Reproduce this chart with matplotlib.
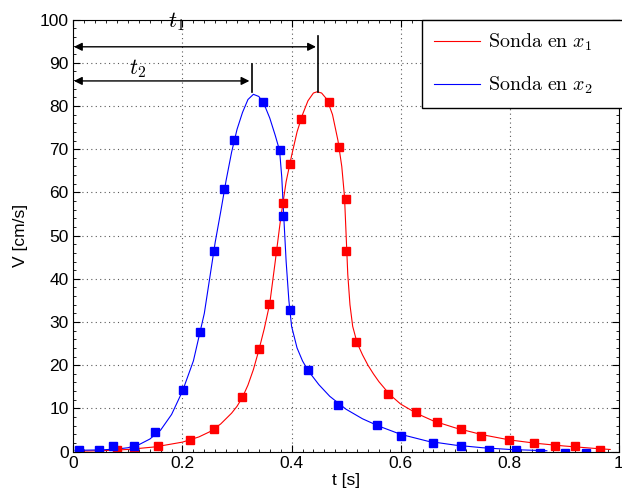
import matplotlib
matplotlib.use('Agg')
import matplotlib.pyplot as plt
from matplotlib.ticker import MultipleLocator, FuncFormatter

# Puntos medidos (marcadores)
t_meas_1 = [0.080, 0.111, 0.156, 0.213, 0.257, 0.309, 0.341, 0.359, 0.372, 0.385, 0.397,
            0.417, 0.468, 0.487, 0.500, 0.500, 0.518, 0.577, 0.628, 0.666, 0.710, 0.748,
            0.799, 0.844, 0.882, 0.920, 0.965]
v_meas_1 = [0.4, 0.4, 1.4, 2.8, 5.3, 12.6, 23.8, 34.2, 46.4, 57.6, 66.5,
            76.9, 81.0, 70.5, 58.5, 46.4, 25.4, 13.4, 9.2, 6.9, 5.2, 3.7,
            2.8, 2.1, 1.4, 1.4, 0.4]
t_meas_2 = [0.011, 0.047, 0.072, 0.111, 0.150, 0.201, 0.233, 0.257, 0.276, 0.295, 0.347,
            0.378, 0.385, 0.397, 0.430, 0.485, 0.557, 0.601, 0.659, 0.710, 0.762,
            0.812, 0.856, 0.902, 0.940]
v_meas_2 = [0.4, 0.4, 1.3, 1.3, 4.5, 14.2, 27.8, 46.4, 60.9, 72.1, 81.0,
            69.7, 54.5, 32.7, 19.0, 10.9, 6.2, 3.7, 2.1, 1.3, 0.4,
            0.4, -0.3, -0.3, -0.3]

# Curvas ajustadas
t_fit_1 = [0.005, 0.05, 0.10, 0.15, 0.20, 0.23, 0.25, 0.27, 0.29, 0.30, 0.31, 0.32, 0.33,
           0.34, 0.35, 0.36, 0.37, 0.38, 0.39, 0.40, 0.41, 0.42, 0.43, 0.44, 0.447,
           0.455, 0.465, 0.475, 0.485, 0.492, 0.497, 0.500, 0.503, 0.507, 0.512, 0.52,
           0.53, 0.54, 0.55, 0.56, 0.58, 0.60, 0.63, 0.66, 0.70, 0.75, 0.80, 0.85,
           0.90, 0.95, 0.984]
v_fit_1 = [0.1, 0.2, 0.5, 1.1, 2.2, 3.4, 4.6, 6.4, 8.9, 10.5, 12.6, 15.4, 19.0,
           23.5, 28.5, 34.3, 44.0, 54.0, 62.5, 68.5, 74.0, 78.0, 81.2, 83.0, 83.3,
           83.0, 81.5, 78.0, 72.0, 66.0, 59.0, 50.0, 41.0, 34.0, 29.0, 25.2,
           22.4, 20.0, 18.0, 16.2, 13.2, 11.0, 8.8, 7.1, 5.5, 3.9, 2.7, 1.9,
           1.3, 0.8, 0.5]
t_fit_2 = [0.003, 0.05, 0.08, 0.10, 0.12, 0.14, 0.16, 0.18, 0.20, 0.22, 0.24, 0.26, 0.27,
           0.28, 0.29, 0.30, 0.31, 0.32, 0.33, 0.34, 0.35, 0.36, 0.37, 0.378, 0.382,
           0.385, 0.39, 0.395, 0.40, 0.41, 0.42, 0.43, 0.45, 0.47, 0.50, 0.53, 0.56,
           0.60, 0.65, 0.70, 0.75, 0.80, 0.868]
v_fit_2 = [0.3, 0.4, 0.6, 0.9, 1.6, 2.9, 5.0, 8.6, 14.0, 21.0, 32.0, 48.5, 55.5,
           62.8, 69.3, 74.6, 78.5, 81.5, 82.7, 82.2, 80.3, 77.2, 73.2, 69.7, 63.5,
           56.0, 44.0, 35.0, 29.0, 24.0, 21.0, 18.8, 15.5, 12.8, 9.8, 7.6, 5.9,
           4.0, 2.4, 1.5, 0.9, 0.5, 0.2]

t_peak_1, v_peak_1 = 0.4487, 83.3
t_peak_2, v_peak_2 = 0.3277, 82.7

plt.rcParams['mathtext.fontset'] = 'cm'
plt.rcParams['font.family'] = 'Liberation Sans'

fig = plt.figure(figsize=(6.22, 4.97), dpi=100)
ax = fig.add_axes([0.118, 0.0913, 0.877, 0.8693])

l1, = ax.plot(t_fit_1, v_fit_1, color='red', lw=0.8)
l2, = ax.plot(t_fit_2, v_fit_2, color='blue', lw=0.8)
ax.plot(t_meas_1, v_meas_1, 's', color='red', ms=5.5, mec='red')
ax.plot(t_meas_2, v_meas_2, 's', color='blue', ms=5.5, mec='blue')

# Flechas t1 y t2
arrow = dict(arrowstyle='<|-|>', color='black', lw=1, mutation_scale=12, shrinkA=0, shrinkB=0)
ax.annotate('', xy=(0.001, 93.7), xytext=(t_peak_1 - 0.004, 93.7), arrowprops=arrow)
ax.annotate('', xy=(0.001, 85.8), xytext=(t_peak_2 - 0.005, 85.8), arrowprops=arrow)
ax.plot([t_peak_1, t_peak_1], [v_peak_1, 96.2], color='black', lw=1.2)
ax.plot([t_peak_2, t_peak_2], [v_peak_2 + 0.6, 89.7], color='black', lw=1.2)
ax.text(0.188, 99.6, r'$t_1$', fontsize=16, ha='center', va='center')
ax.text(0.118, 88.6, r'$t_2$', fontsize=16, ha='center', va='center')

ax.set_xlim(0, 1)
ax.set_ylim(0, 100)
ax.xaxis.set_major_locator(MultipleLocator(0.2))
ax.xaxis.set_minor_locator(MultipleLocator(0.02))
ax.xaxis.set_major_formatter(FuncFormatter(lambda v, p: f'{v:g}'))
ax.yaxis.set_major_locator(MultipleLocator(10))
ax.yaxis.set_minor_locator(MultipleLocator(2))
ax.tick_params(which='both', direction='in', top=True, right=True, labelsize=12.5)
ax.tick_params(which='major', length=5)
ax.tick_params(which='minor', length=2.5)
ax.grid(True, which='major', color='0.35', linestyle=(0, (1, 3)), lw=0.8)
for s in ax.spines.values():
    s.set_linewidth(0.8)

ax.set_xlabel('t [s]', fontsize=12.5, labelpad=1)
ax.set_ylabel('V [cm/s]', fontsize=12.5, labelpad=8)

leg = ax.legend([l1, l2], [r'$\mathrm{Sonda\ en}\ x_1$', r'$\mathrm{Sonda\ en}\ x_2$'],
                loc='upper left', bbox_to_anchor=(0.639, 0.5, 0.38, 0.5), mode='expand',
                fontsize=14.4, fancybox=False, framealpha=1, edgecolor='black',
                borderaxespad=0, handlelength=2.3, handletextpad=0.4,
                labelspacing=1.1, borderpad=0.6)
leg.get_frame().set_linewidth(1)

fig.savefig('out.png', dpi=100)
